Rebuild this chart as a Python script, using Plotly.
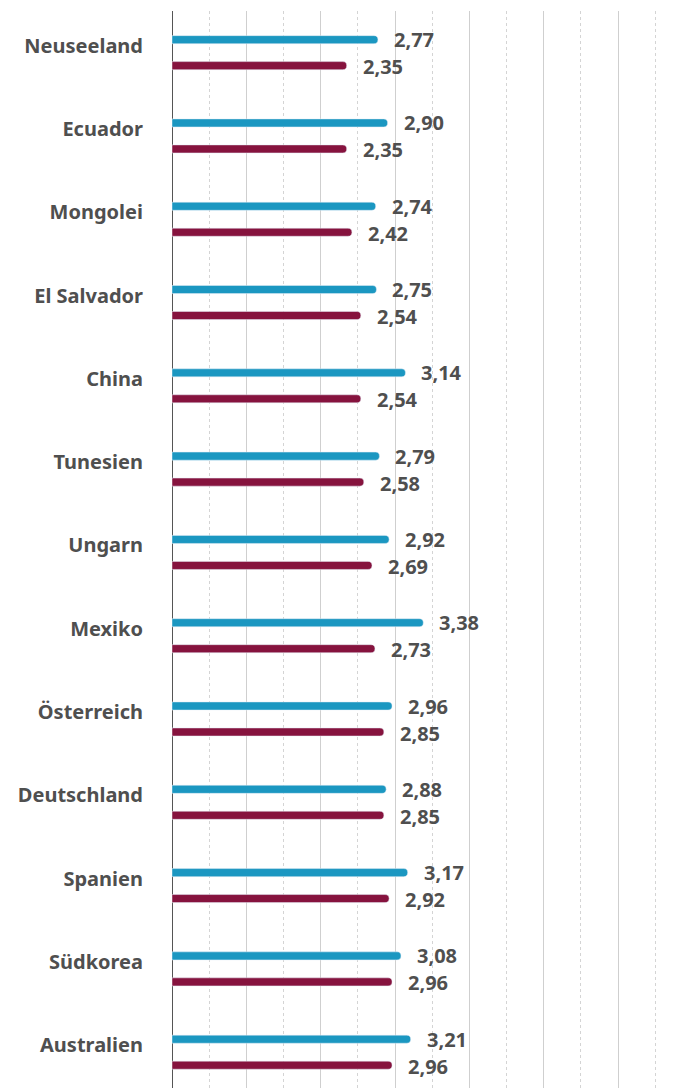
import plotly.graph_objects as go

countries = ["Neuseeland", "Ecuador", "Mongolei", "El Salvador", "China", "Tunesien",
             "Ungarn", "Mexiko", "Österreich", "Deutschland", "Spanien", "Südkorea", "Australien"]
blue_vals = [2.77, 2.90, 2.74, 2.75, 3.14, 2.79, 2.92, 3.38, 2.96, 2.88, 3.17, 3.08, 3.21]
red_vals = [2.35, 2.35, 2.42, 2.54, 2.54, 2.58, 2.69, 2.73, 2.85, 2.85, 2.92, 2.96, 2.96]

BLUE = "#1b97c1"
RED = "#86133e"
TEXT = "#4f4f4f"
FONT = "Noto Sans"
FS = 20

fig = go.Figure()
fig.add_trace(go.Bar(y=countries, x=blue_vals, orientation="h", marker=dict(color=BLUE, cornerradius="50%"),
                     hoverinfo="skip"))
fig.add_trace(go.Bar(y=countries, x=red_vals, orientation="h", marker=dict(color=RED, cornerradius="50%"),
                     hoverinfo="skip"))

def fmt(v):
    return f"{v:.2f}".replace(".", ",")

annotations = []
for c, b, r in zip(countries, blue_vals, red_vals):
    annotations.append(dict(x=b, y=c, text=fmt(b), showarrow=False, xanchor="left", yanchor="middle",
                            xshift=14, yshift=13, font=dict(family=FONT, size=FS, color=TEXT, weight="bold")))
    annotations.append(dict(x=r, y=c, text=fmt(r), showarrow=False, xanchor="left", yanchor="middle",
                            xshift=14, yshift=-14, font=dict(family=FONT, size=FS, color=TEXT, weight="bold")))

fig.update_layout(
    width=683, height=1080,
    margin=dict(l=164, r=0, t=3, b=0),
    paper_bgcolor="white", plot_bgcolor="white",
    showlegend=False,
    barmode="group", bargap=0.376, bargroupgap=0.69,
    annotations=annotations,
)
fig.update_xaxes(range=[0, 6.98], showticklabels=False, ticks="",
                 showgrid=True, dtick=1, tick0=0, gridcolor="#cfcfcf", gridwidth=1,
                 minor=dict(dtick=0.5, showgrid=True, gridcolor="#d4d4d4", griddash="dot", gridwidth=1),
                 zeroline=True, zerolinecolor="#555555", zerolinewidth=1, fixedrange=True)
fig.update_yaxes(type="category", range=[12.43, -0.5], showgrid=False, zeroline=False,
                 ticks="", ticklabelstandoff=28, ticklabelshift=7,
                 tickfont=dict(family=FONT, size=FS, color=TEXT, weight="bold"), automargin=False)

fig.write_html("out.html")
